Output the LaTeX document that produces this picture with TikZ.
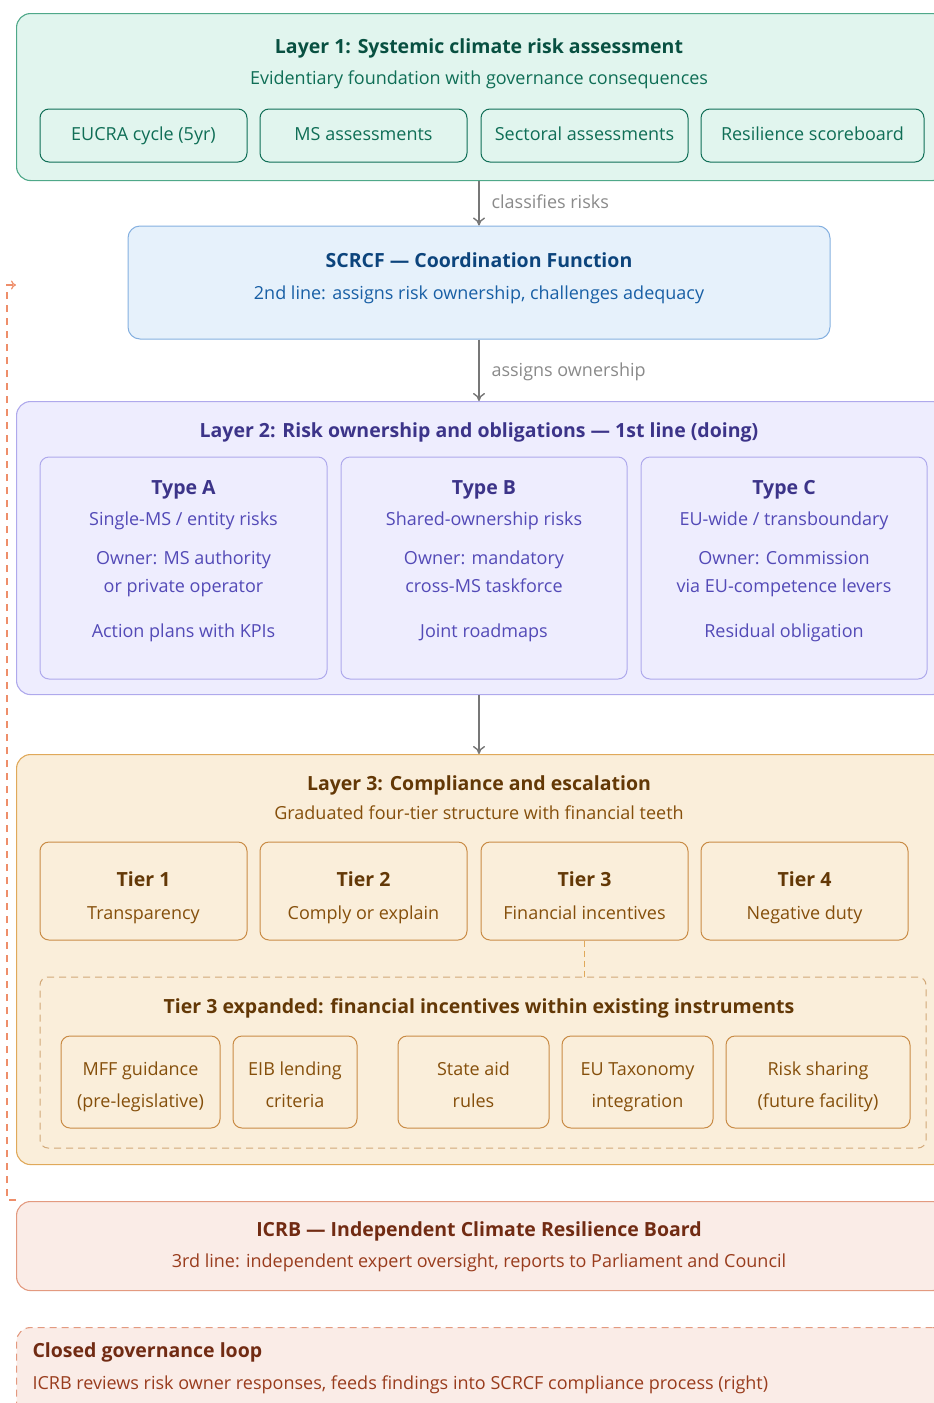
\documentclass[tikz,border=0pt]{standalone}
\usepackage{fontspec}
\setmainfont{Open Sans}
\usetikzlibrary{arrows.meta}

% colour ramps
\definecolor{grnfill}{HTML}{E1F5EE}
\definecolor{grnline}{HTML}{4FA889}
\definecolor{grncard}{HTML}{7DC2A6}
\definecolor{grndark}{HTML}{085041}
\definecolor{grntext}{HTML}{0F6E56}
\definecolor{blufill}{HTML}{E6F1FB}
\definecolor{bluline}{HTML}{85B0E0}
\definecolor{bludark}{HTML}{0C447C}
\definecolor{blutext}{HTML}{185FA5}
\definecolor{purfill}{HTML}{EEEDFE}
\definecolor{purline}{HTML}{AFA9EC}
\definecolor{purdark}{HTML}{3C3489}
\definecolor{purtext}{HTML}{534AB7}
\definecolor{ambfill}{HTML}{FAEEDA}
\definecolor{ambline}{HTML}{E0A95A}
\definecolor{ambcard}{HTML}{C98B45}
\definecolor{ambdash}{HTML}{D2A878}
\definecolor{ambdark}{HTML}{633806}
\definecolor{ambtext}{HTML}{854F0B}
\definecolor{corfill}{HTML}{FAECE7}
\definecolor{corline}{HTML}{E39A80}
\definecolor{cordark}{HTML}{712B13}
\definecolor{cortext}{HTML}{993C1D}
\definecolor{loopline}{HTML}{EE8E6A}
\definecolor{flowgray}{HTML}{777777}
\definecolor{notegray}{HTML}{8A8A8A}

\tikzset{
  panel/.style={draw, rounded corners=14pt, line width=1.1pt, anchor=north west, inner sep=0pt},
  card/.style={draw, rounded corners=9pt, line width=1pt, inner sep=0pt},
  ttl/.style={font=\fontsize{19.5}{23}\selectfont\bfseries, text height=14pt, text depth=4pt, yshift=-2pt},
  body/.style={font=\fontsize{18}{22}\selectfont, text height=13pt, text depth=4pt},
  txt/.style={body, yshift=-2pt},
  flow/.style={-{To[length=8pt,width=12pt]}, flowgray, line width=1.4pt},
  note/.style={txt, notegray, anchor=west},
}

\begin{document}
\begin{tikzpicture}[x=1pt, y=-1pt]
  \useasboundingbox (0,0) rectangle (934,1403);

  % Layer 1
  \node[panel, fill=grnfill, draw=grnline, minimum width=930, minimum height=167] (layerone) at (16,13) {};
  \node[ttl, grndark] (lonetitle) at (479,46) {Layer 1: Systemic climate risk assessment};
  \node[txt, grntext] (lonesub) at (479,78) {Evidentiary foundation with governance consequences};
  \node[card, draw=grncard, minimum width=207, minimum height=53, body, grntext] (eucra) at (143.5,135.5) {EUCRA cycle (5yr)};
  \node[card, draw=grncard, minimum width=207, minimum height=53, body, grntext] (msass) at (363.5,135.5) {MS assessments};
  \node[card, draw=grncard, minimum width=207, minimum height=53, body, grntext] (sectass) at (584.5,135.5) {Sectoral assessments};
  \node[card, draw=grncard, minimum width=223, minimum height=53, body, grntext] (scoreboard) at (812.5,135.5) {Resilience scoreboard};

  % SCRCF
  \node[card, rounded corners=12pt, fill=blufill, draw=bluline, minimum width=702, minimum height=113] (scrcf) at (479,282.5) {};
  \node[ttl, bludark] (scrcftitle) at (479,260) {SCRCF — Coordination Function};
  \node[txt, blutext] (scrcfsub) at (479,293) {2nd line: assigns risk ownership, challenges adequacy};

  \draw[flow] (scrcf.north |- layerone.south) -- (scrcf.north);
  \node[note] (classlbl) at (488,202) {classifies risks};

  % Layer 2
  \node[panel, fill=purfill, draw=purline, minimum width=930, minimum height=293] (layertwo) at (16,401) {};
  \node[ttl, purdark] (ltwotitle) at (479,430) {Layer 2: Risk ownership and obligations — 1st line (doing)};

  \draw[flow] (scrcf.south) -- (scrcf.south |- layertwo.north);
  \node[note] (ownlbl) at (488,370) {assigns ownership};

  \node[card, draw=purline, minimum width=287, minimum height=222] (typea) at (183.5,568) {};
  \node[card, draw=purline, minimum width=286, minimum height=222] (typeb) at (484,568) {};
  \node[card, draw=purline, minimum width=286, minimum height=222] (typec) at (784,568) {};

  \foreach \c/\head/\riskkind/\ownone/\owntwo/\tool in {
      typea/Type A/Single-MS \slash\ entity risks/Owner: MS authority/or private operator/Action plans with KPIs,
      typeb/Type B/Shared-ownership risks/Owner: mandatory/cross-MS taskforce/Joint roadmaps,
      typec/Type C/EU-wide \slash\ transboundary/Owner: Commission/via EU-competence levers/Residual obligation} {
    \node[ttl, purdark] (\c-head) at (\c.center |- 0,487) {\head};
    \node[txt, purtext] (\c-kind) at (\c.center |- 0,519) {\riskkind};
    \node[txt, purtext] (\c-own) at (\c.center |- 0,558) {\ownone};
    \node[txt, purtext] (\c-via) at (\c.center |- 0,586) {\owntwo};
    \node[txt, purtext] (\c-tool) at (\c.center |- 0,631) {\tool};
  }

  % Layer 3
  \node[panel, fill=ambfill, draw=ambline, minimum width=930, minimum height=410] (layerthree) at (16,754) {};
  \node[ttl, ambdark] (lthreetitle) at (479,783) {Layer 3: Compliance and escalation};
  \node[txt, ambtext] (lthreesub) at (479,813) {Graduated four-tier structure with financial teeth};

  \draw[flow] (scrcf.south |- layertwo.south) -- (scrcf.south |- layerthree.north);

  \foreach \c/\x/\head/\what in {tierone/143.5/Tier 1/Transparency, tiertwo/363.5/Tier 2/Comply or explain,
      tierthree/584.5/Tier 3/Financial incentives, tierfour/804.5/Tier 4/Negative duty} {
    \node[card, draw=ambcard, minimum width=207, minimum height=98] (\c) at (\x,891) {};
    \node[ttl, ambdark] (\c-head) at (\x,879) {\head};
    \node[txt, ambtext] (\c-what) at (\x,913) {\what};
  }

  % Tier 3 expanded
  \node[card, dashed, dash pattern=on 7pt off 5pt, draw=ambdash, rounded corners=8pt, minimum width=886, minimum height=171] (expanded) at (483,1062.5) {};
  \node[ttl, ambdark] (exptitle) at (479,1006) {Tier 3 expanded: financial incentives within existing instruments};
  \draw[ambline, line width=1pt, dash pattern=on 6pt off 4pt] (tierthree.south) -- (tierthree.south |- expanded.north);

  \foreach \c/\x/\w/\one/\two in {mff/140.5/159/MFF guidance/(pre-legislative), eib/295/124/EIB lending/criteria,
      stateaid/473.5/151/State aid/rules, taxonomy/637.5/151/EU Taxonomy/integration, risksharing/818/184/Risk sharing/(future facility)} {
    \node[card, draw=ambcard, minimum width=\w, minimum height=92] (\c) at (\x,1082) {};
    \node[txt, ambtext] (\c-one) at (\x,1069) {\one};
    \node[txt, ambtext] (\c-two) at (\x,1101) {\two};
  }

  % ICRB
  \node[panel, fill=corfill, draw=corline, minimum width=930, minimum height=89] (icrb) at (16,1201) {};
  \node[ttl, cordark] (icrbtitle) at (479,1229) {ICRB — Independent Climate Resilience Board};
  \node[txt, cortext] (icrbsub) at (479,1261) {3rd line: independent expert oversight, reports to Parliament and Council};

  % closed loop
  \node[panel, dashed, dash pattern=on 7pt off 5pt, fill=corfill, draw=corline, minimum width=930, minimum height=100] (loopbox) at (16,1327) {};
  \node[ttl, cordark, anchor=west] (looptitle) at (29,1350) {Closed governance loop};
  \node[txt, cortext, anchor=west] (loopsub) at (29,1383) {ICRB reviews risk owner responses, feeds findings into SCRCF compliance process (right)};

  \coordinate (loopend) at (16,285);
  \draw[loopline, line width=1.2pt, dash pattern=on 7pt off 6pt, -{To[length=5pt,width=9pt]}]
    (icrb.north west) ++(0,-1) -- ++(-9,0) |- (loopend);
\end{tikzpicture}
\end{document}
